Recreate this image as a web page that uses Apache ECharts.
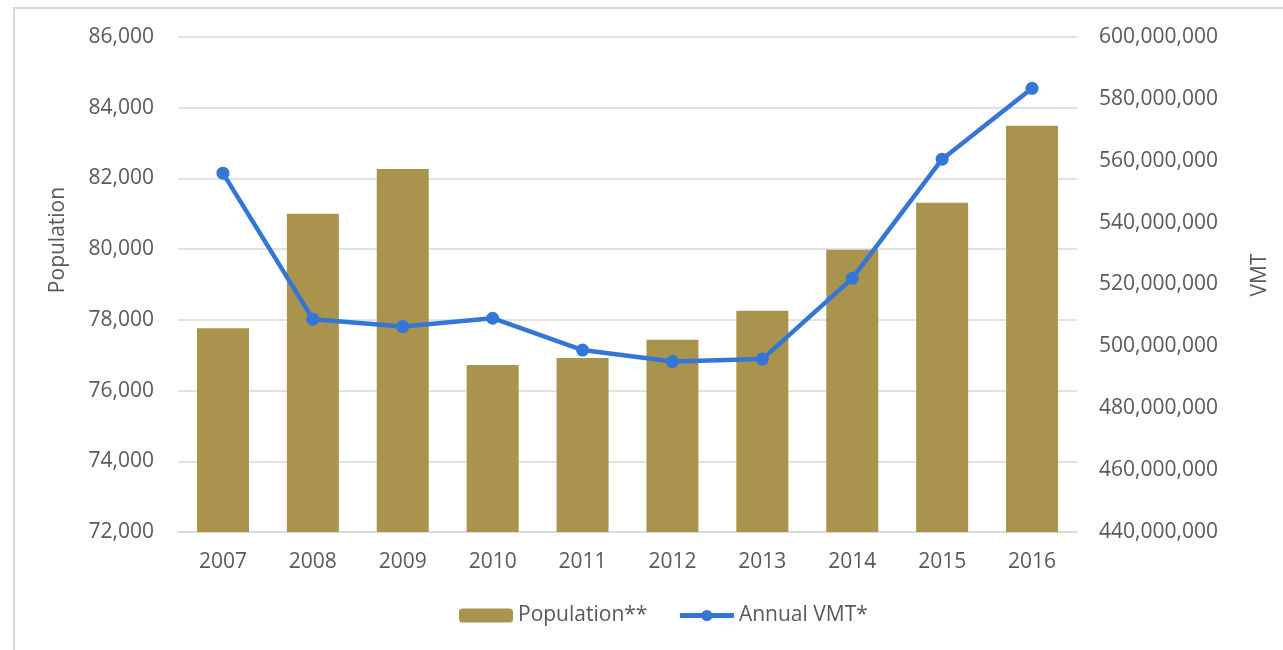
<!DOCTYPE html>
<html>
<head>
<meta charset="utf-8">
<script src="https://cdn.jsdelivr.net/npm/echarts@6/dist/echarts.min.js"></script>
<style>
  html, body { margin: 0; padding: 0; background: #fff; }
  #vmt-chart { width: 1283px; height: 650px; }
</style>
</head>
<body>
<div id="vmt-chart"></div>
<script>
  // values
  var years = ['2007', '2008', '2009', '2010', '2011', '2012', '2013', '2014', '2015', '2016']
  var population = [77760, 81000, 82270, 76720, 76920, 77440, 78260, 79980, 81310, 83490]
  var annualVmt = [556000000, 508800000, 506400000, 509100000, 498800000, 495100000, 495900000, 522000000, 560500000, 583400000]

  var textColor = '#595959'
  var fontName = 'Open Sans'

  function withCommas(v) {
    return Number(v).toLocaleString('en-US')
  }

  var myChart = echarts.init(document.getElementById('vmt-chart'))
  myChart.setOption({
    animation: false,
    textStyle: { fontFamily: fontName, color: textColor },
    grid: {
      left: 178,
      right: 206,
      top: 37,
      bottom: 118,
      containLabel: false
    },
    legend: {
      bottom: 19,
      left: 454,
      itemWidth: 54,
      itemHeight: 14,
      itemGap: 30,
      textStyle: { fontSize: 21, color: textColor, fontFamily: fontName },
      data: [
        { name: 'Population**' },
        {
          name: 'Annual VMT*',
          lineStyle: { width: 5, color: '#3476d6' },
          itemStyle: { color: '#3476d6' }
        }
      ]
    },
    xAxis: {
      type: 'category',
      data: years,
      axisTick: { show: false },
      axisLine: { lineStyle: { color: '#d9d9d9', width: 1.5 } },
      axisLabel: { fontSize: 21, color: textColor, margin: 20, fontFamily: fontName }
    },
    yAxis: [
      {
        type: 'value',
        min: 72000,
        max: 86000,
        interval: 2000,
        axisLine: { show: false },
        axisTick: { show: false },
        splitLine: { lineStyle: { color: '#d9d9d9', width: 1.5 } },
        axisLabel: {
          fontSize: 21,
          color: textColor,
          margin: 24,
          fontFamily: fontName,
          formatter: withCommas
        }
      },
      {
        type: 'value',
        min: 440000000,
        max: 600000000,
        interval: 20000000,
        position: 'right',
        axisLine: { show: false },
        axisTick: { show: false },
        splitLine: { show: false },
        axisLabel: {
          fontSize: 21,
          color: textColor,
          margin: 22,
          fontFamily: fontName,
          formatter: withCommas
        }
      }
    ],
    graphic: [
      {
        type: 'rect',
        silent: true,
        shape: { x: 14, y: 8, width: 1400, height: 800 },
        style: { fill: 'none', stroke: '#d9d9d9', lineWidth: 2 }
      },
      {
        type: 'text',
        x: 58,
        y: 240,
        rotation: Math.PI / 2,
        style: {
          text: 'Population',
          font: '21px "Open Sans"',
          fill: textColor,
          align: 'center',
          verticalAlign: 'middle'
        }
      },
      {
        type: 'text',
        x: 1260,
        y: 275,
        rotation: Math.PI / 2,
        style: {
          text: 'VMT',
          font: '21px "Open Sans"',
          fill: textColor,
          align: 'center',
          verticalAlign: 'middle'
        }
      }
    ],
    series: [
      {
        name: 'Population**',
        type: 'bar',
        yAxisIndex: 0,
        barWidth: 52,
        itemStyle: { color: '#aa934c' },
        data: population
      },
      {
        name: 'Annual VMT*',
        type: 'line',
        yAxisIndex: 1,
        symbol: 'circle',
        symbolSize: 13,
        lineStyle: { color: '#3476d6', width: 4.5 },
        itemStyle: { color: '#3476d6' },
        data: annualVmt
      }
    ]
  })
</script>
</body>
</html>
